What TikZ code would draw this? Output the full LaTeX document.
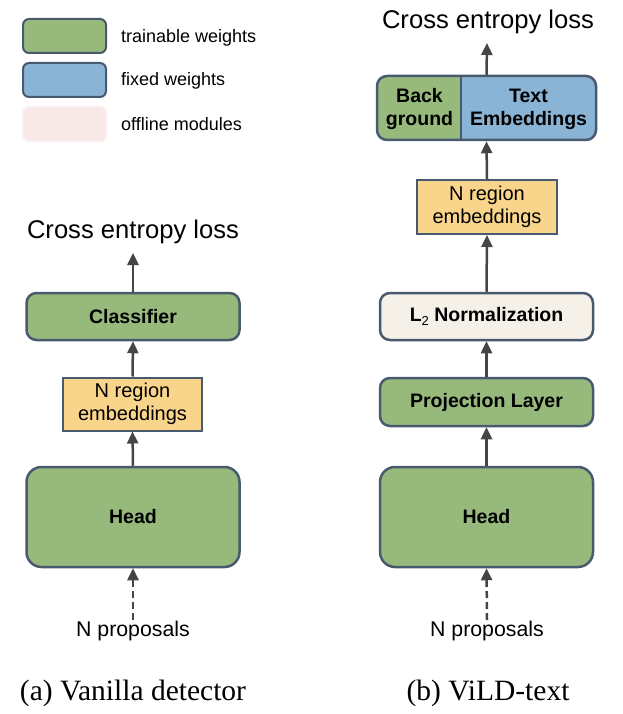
\documentclass[tikz,border=0pt]{standalone}
\usepackage{fontspec}
\setmainfont{Liberation Serif}
\newfontfamily\arial{Liberation Sans}
\usetikzlibrary{arrows.meta}
\definecolor{trgreen}{HTML}{97BA7C}
\definecolor{fxblue}{HTML}{8AB4D5}
\definecolor{offpink}{HTML}{F8E8E8}
\definecolor{embyellow}{HTML}{F9D58B}
\definecolor{normcream}{HTML}{F5F1E8}
\definecolor{bordc}{HTML}{4A5A6E}
\definecolor{arrc}{HTML}{454545}
\tikzset{
  boxlabel/.style={font=\arial\bfseries\fontsize{19.5}{23}\selectfont, align=center, inner sep=0pt},
  roundbox/.style={boxlabel, draw=bordc, line width=2.5pt, rounded corners=10pt},
  greenbox/.style={roundbox, fill=trgreen},
  headbox/.style={roundbox, fill=trgreen, rounded corners=15pt, minimum width=213pt, minimum height=100pt},
  embbox/.style={draw=bordc, line width=2pt, fill=embyellow, font=\arial\fontsize{20}{23}\selectfont, align=center, inner sep=0pt},
  losslabel/.style={font=\arial\fontsize{25.6}{28}\selectfont, inner sep=0pt},
  proplabel/.style={font=\arial\fontsize{21.3}{24}\selectfont, inner sep=0pt},
  captionlabel/.style={font=\fontsize{29.5}{32}\selectfont, inner sep=0pt},
  legendbox/.style={draw=bordc, line width=2pt, rounded corners=6pt, minimum width=83pt, minimum height=34pt, inner sep=0pt},
  legendtext/.style={font=\arial\fontsize{18}{20}\selectfont, anchor=west, inner sep=0pt},
  flow/.style={draw=arrc, line width=2.5pt, -{Triangle[length=12pt,width=11pt]}},
  dashflow/.style={flow, dash pattern=on 7pt off 4pt}
}
\begin{document}
\begin{tikzpicture}[x=1pt,y=-1pt]
\useasboundingbox (0,0) rectangle (622,714);
% legend
\node[legendbox, fill=trgreen] (lg1) at (64.5,36) {};
\node[legendbox, fill=fxblue] (lg2) at (64.5,80) {};
\node[legendbox, draw=offpink!70!white, fill=offpink] (lg3) at (64.5,124) {};
\node[legendtext] (lt1) at (121,38) {trainable weights};
\node[legendtext] (lt2) at (121,81) {fixed weights};
\node[legendtext] (lt3) at (121,124) {offline modules};

% left column
\node[losslabel] (loss1) at (133,232) {Cross entropy loss};
\coordinate (loss1tip) at (133,253);
\node[greenbox, minimum width=213pt, minimum height=47pt] (cls) at (133,316.5) {Classifier};
\node[embbox, minimum width=139pt, minimum height=53pt] (reg1) at (132.5,404) {N region\\embeddings};
\node[headbox] (head1) at (133,517) {Head};
\node[proplabel] (prop1) at (133,631) {N proposals};
\coordinate (prop1top) at (133,620);
\draw[flow] (cls.north) -- (loss1tip);
\draw[flow] (reg1.north) -- (cls.south);
\draw[flow] (head1.north) -- (reg1.south);
\draw[dashflow] (prop1top) -- (head1.south);
\node[captionlabel] (capa) at (133,693) {(a) Vanilla detector};

% right column
\node[losslabel] (loss2) at (488,22) {Cross entropy loss};
\coordinate (loss2tip) at (487,43);
\fill[fxblue, rounded corners=10pt] (377,76) rectangle (596,140);
\begin{scope}
  \clip[rounded corners=10pt] (377,76) rectangle (596,140);
  \fill[trgreen] (377,76) rectangle (461,140);
\end{scope}
\draw[bordc, line width=2pt] (461,76) -- (461,140);
\node[draw=bordc, line width=2.5pt, rounded corners=10pt, minimum width=219pt, minimum height=64pt, inner sep=0pt] (emb) at (486.5,108) {};
\node[boxlabel] (bg) at (419.5,109) {Back\\ground};
\node[boxlabel] (te) at (528.5,109) {Text\\Embeddings};
\node[embbox, minimum width=140pt, minimum height=54pt] (reg2) at (487,207) {N region\\embeddings};
\node[roundbox, fill=normcream, minimum width=213pt, minimum height=47pt] (l2) at (486.5,316.5) {L\raisebox{-4pt}{\fontsize{13}{13}\selectfont\mdseries 2} Normalization};
\node[greenbox, minimum width=213pt, minimum height=48pt] (proj) at (486.5,402) {Projection Layer};
\node[headbox] (head2) at (486.5,517) {Head};
\node[proplabel] (prop2) at (487,631) {N proposals};
\coordinate (prop2top) at (487,620);
\draw[flow] (emb.north) -- (loss2tip);
\draw[flow] (reg2.north) -- (emb.south);
\draw[flow] (l2.north) -- (reg2.south);
\draw[flow] (proj.north) -- (l2.south);
\draw[flow] (head2.north) -- (proj.south);
\draw[dashflow] (prop2top) -- (head2.south);
\node[captionlabel] (capb) at (488,693) {(b) ViLD-text};
\end{tikzpicture}
\end{document}
